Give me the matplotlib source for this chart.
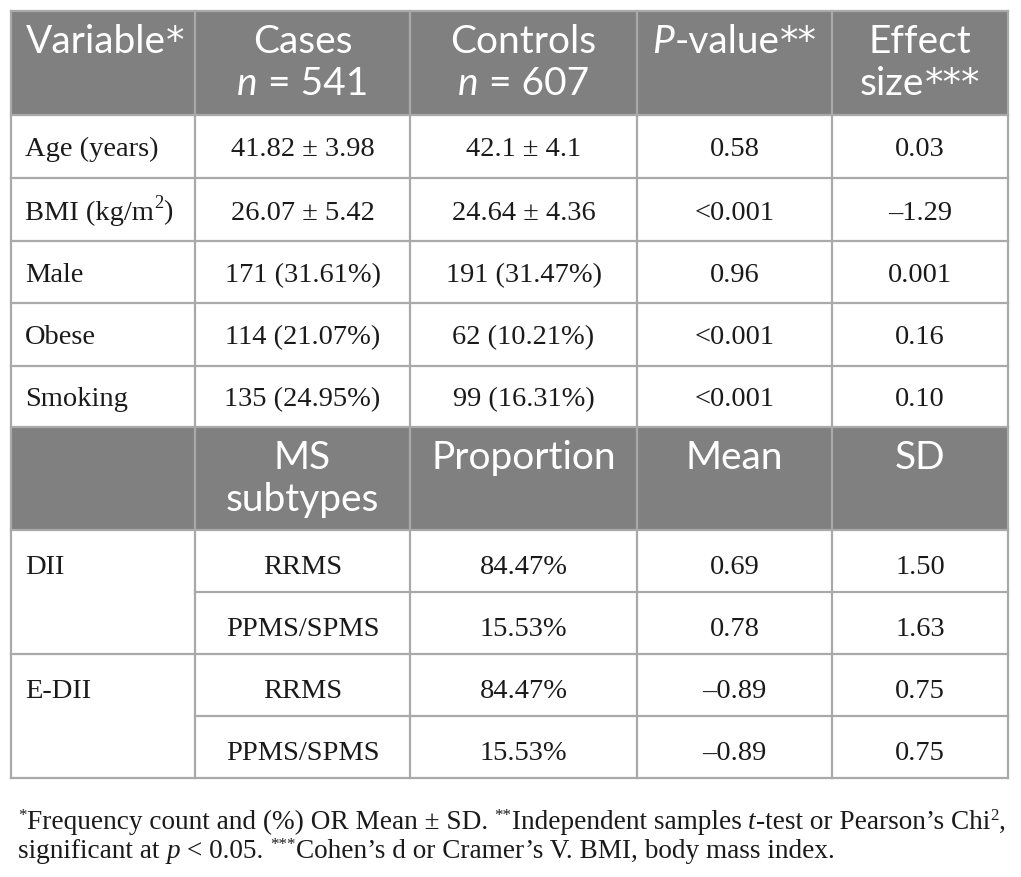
import matplotlib
matplotlib.use("Agg")
import matplotlib.pyplot as plt
from matplotlib.patches import Rectangle

# ---------------- data ----------------
header1 = [["Variable*"], ["Cases", "n = 541"], ["Controls", "n = 607"], ["P-value**"], ["Effect", "size***"]]
variables = ["Age (years)", "BMI (kg/m2)", "Male", "Obese", "Smoking"]
cases = ["41.82 ± 3.98", "26.07 ± 5.42", "171 (31.61%)", "114 (21.07%)", "135 (24.95%)"]
controls = ["42.1 ± 4.1", "24.64 ± 4.36", "191 (31.47%)", "62 (10.21%)", "99 (16.31%)"]
pvalues = ["0.58", "<0.001", "0.96", "<0.001", "<0.001"]
effects = ["0.03", "–1.29", "0.001", "0.16", "0.10"]

header2 = [[""], ["MS", "subtypes"], ["Proportion"], ["Mean"], ["SD"]]
indices = ["DII", "E-DII"]
subtypes = ["RRMS", "PPMS/SPMS", "RRMS", "PPMS/SPMS"]
proportions = ["84.47%", "15.53%", "84.47%", "15.53%"]
means = ["0.69", "0.78", "–0.89", "–0.89"]
sds = ["1.50", "1.63", "0.75", "0.75"]

# ---------------- layout ----------------
W, H = 1021, 877
fig = plt.figure(figsize=(W / 100, H / 100), dpi=100)
ax = fig.add_axes([0, 0, 1, 1])
ax.set_xlim(0, W)
ax.set_ylim(H, 0)
ax.axis("off")
renderer = fig.canvas.get_renderer()

col_x = [11, 195, 410, 637, 832, 1008]
row_y = [11, 115, 178, 241, 303, 366, 427, 530, 592, 654, 716, 778]
HEAD_FILL = "#808080"
LINE = "#a9a9a9"
LW = 1.6

SERIF = "Liberation Serif"
SANS = "Lato"
BODY_SIZE = 20.5
HEAD_SIZE = 28

def seg(text, family=SERIF, size=BODY_SIZE, style="normal", dy=0, color="#1a1a1a"):
    return (text, dict(family=family, size=size, style=style, color=color), dy)

def draw_segments(segs, x, y, ha="center"):
    texts = []
    for t, props, dy in segs:
        tt = ax.text(0, y + dy, t, ha="left", va="baseline", **props)
        texts.append(tt)
    widths = [tt.get_window_extent(renderer).width for tt in texts]
    total = sum(widths)
    if ha == "center":
        cx = x - total / 2
    elif ha == "left":
        cx = x
    else:
        cx = x - total
    for tt, w in zip(texts, widths):
        tt.set_x(cx)
        cx += w
    return texts, total

# header backgrounds
for (y0, y1) in [(row_y[0], row_y[1]), (row_y[6], row_y[7])]:
    ax.add_patch(Rectangle((col_x[0], y0), col_x[-1] - col_x[0], y1 - y0,
                           facecolor=HEAD_FILL, edgecolor="none", zorder=0))

# grid lines
def hline(y, x0, x1):
    ax.plot([x0, x1], [y, y], color=LINE, lw=LW, solid_capstyle="projecting", zorder=2)

def vline(x, y0, y1):
    ax.plot([x, x], [y0, y1], color=LINE, lw=LW, solid_capstyle="projecting", zorder=2)

for i, y in enumerate(row_y):
    if i in (8, 10):
        hline(y, col_x[1], col_x[-1])
    else:
        hline(y, col_x[0], col_x[-1])
for x in col_x:
    vline(x, row_y[0], row_y[-1])

# header text
def head_segs(line):
    stars = len(line) - len(line.rstrip("*"))
    core = line.rstrip("*")
    segs = []
    if core.startswith("n = ") or core.startswith("P-"):
        segs.append(seg(core[0], SANS, HEAD_SIZE, "italic", color="white"))
        segs.append(seg(core[1:], SANS, HEAD_SIZE, color="white"))
    else:
        segs.append(seg(core, SANS, HEAD_SIZE, color="white"))
    if stars:
        segs.append(seg("*" * stars, "DejaVu Sans", HEAD_SIZE * 0.95, color="white"))
    return segs

def head_cell(lines, ci, y_top):
    cx = (col_x[ci] + col_x[ci + 1]) / 2 if ci > 0 else 26
    ha = "center" if ci > 0 else "left"
    base = [y_top + 42, y_top + 84]
    for li, line in enumerate(lines):
        if not line:
            continue
        draw_segments(head_segs(line), cx, base[li], ha)

for ci, lines in enumerate(header1):
    head_cell(lines, ci, row_y[0])
for ci, lines in enumerate(header2):
    head_cell(lines, ci, row_y[6])

# body rows (part 1)
def cell_text(text, ci, yc):
    cx = (col_x[ci] + col_x[ci + 1]) / 2 if ci > 0 else 25
    ha = "center" if ci > 0 else "left"
    base = yc + 10
    if text.endswith("m2)"):
        segs = [seg(text[:-2]), seg("2", size=BODY_SIZE * 0.65, dy=-11), seg(")")]
    else:
        segs = [seg(text)]
    draw_segments(segs, cx, base, ha)

for r in range(len(variables)):
    yc = (row_y[1 + r] + row_y[2 + r]) / 2
    for ci, col in enumerate([variables, cases, controls, pvalues, effects]):
        cell_text(col[r], ci, yc)

# body rows (part 2)
for r in range(len(subtypes)):
    yc = (row_y[7 + r] + row_y[8 + r]) / 2 + 3
    if r % 2 == 0:
        cell_text(indices[r // 2], 0, yc)
    for ci, col in zip([1, 2, 3, 4], [subtypes, proportions, means, sds]):
        cell_text(col[r], ci, yc)

# footnote
def foot_lines(fn):
    ss, sdy = fn * 0.62, -fn * 0.45
    l1 = [seg("*", size=ss, dy=sdy),
          seg("Frequency count and (%) OR Mean ± SD. ", size=fn),
          seg("**", size=ss, dy=sdy),
          seg("Independent samples ", size=fn),
          seg("t", size=fn, style="italic"),
          seg("-test or Pearson’s Chi", size=fn),
          seg("2", size=ss, dy=sdy),
          seg(",", size=fn)]
    l2 = [seg("significant at ", size=fn),
          seg("p", size=fn, style="italic"),
          seg(" < 0.05. ", size=fn),
          seg("***", size=ss, dy=sdy),
          seg("Cohen’s d or Cramer’s V. BMI, body mass index.", size=fn)]
    return l1, l2

FN0 = 18.0
l1, _ = foot_lines(FN0)
texts, w = draw_segments(l1, 18, 829, "left")
for t in texts:
    t.remove()
FN = FN0 * (1006 - 18) / w
l1, l2 = foot_lines(FN)
draw_segments(l1, 18, 829, "left")
draw_segments(l2, 18, 858, "left")

fig.savefig("out.png", dpi=100)
